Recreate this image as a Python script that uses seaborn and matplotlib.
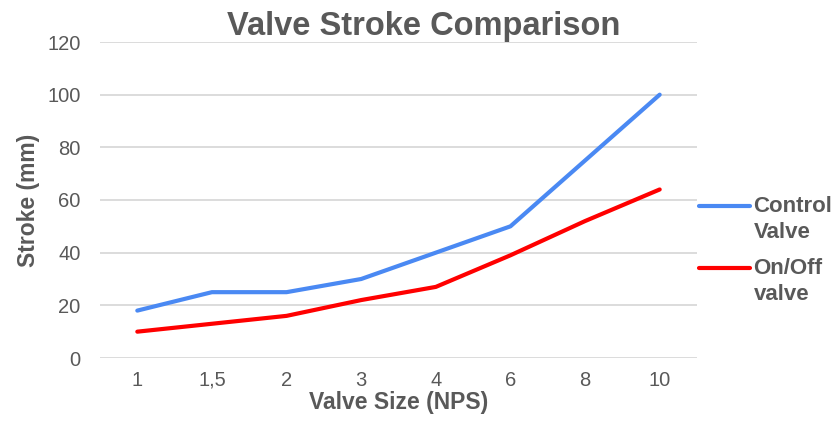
import matplotlib
matplotlib.use("Agg")
import matplotlib.pyplot as plt
from matplotlib.legend_handler import HandlerLine2D
import seaborn as sns
import pandas as pd

# data
sizes = ['1', '1,5', '2', '3', '4', '6', '8', '10']
control_valve = [18, 25, 25, 30, 40, 50, 75, 100]
onoff_valve = [10, 13, 16, 22, 27, 39, 52, 64]
series_names = ['Control\nValve', 'On/Off\nvalve']
colors = {'Control\nValve': '#4a89f3', 'On/Off\nvalve': '#ff0000'}

df = pd.DataFrame({
    'Size': sizes * 2,
    'Stroke': control_valve + onoff_valve,
    'Series': [series_names[0]] * len(sizes) + [series_names[1]] * len(sizes),
})

sns.set_theme(style="white")
plt.rcParams['font.family'] = ['Liberation Sans', 'DejaVu Sans']
grey = '#595959'
LEG_FS = 16


class FirstLineHandler(HandlerLine2D):
    # put the legend line next to the first line of a two-line label
    def create_artists(self, legend, orig_handle, xdescent, ydescent,
                       width, height, fontsize, trans):
        arts = super().create_artists(legend, orig_handle, xdescent, ydescent,
                                      width, height, fontsize, trans)
        for a in arts:
            a.set_ydata([y + 0.62 * fontsize for y in a.get_ydata()])
        return arts


fig = plt.figure(figsize=(8.39, 4.21), dpi=100)
ax = fig.add_axes([100 / 839, 1 - 358 / 421, 597 / 839, 316 / 421])

sns.lineplot(data=df, x='Size', y='Stroke', hue='Series', palette=colors,
             linewidth=3, sort=False, ax=ax, legend=True,
             solid_capstyle='round')

ax.set_xlim(-0.5, len(sizes) - 0.5)
ax.set_ylim(0, 120)
ax.set_yticks(range(0, 121, 20))
ax.grid(axis='y', color='#d9d9d9', linewidth=1.3)
ax.set_axisbelow(True)
for s in ax.spines.values():
    s.set_visible(False)
ax.tick_params(axis='both', length=0, labelsize=14.5, labelcolor=grey)
ax.tick_params(axis='y', pad=14)
ax.tick_params(axis='x', pad=9)

ax.set_xlabel('Valve Size (NPS)', fontsize=16.5, fontweight='bold', color=grey, labelpad=1)
ax.set_ylabel('Stroke (mm)', fontsize=16.5, fontweight='bold', color=grey, labelpad=5)

fig.text(0.505, 1 - 35 / 421, 'Valve Stroke Comparison', ha='center', va='baseline',
         fontsize=23.5, fontweight='bold', color=grey)

handles, labels = ax.get_legend_handles_labels()
leg = ax.legend(handles, labels, loc='upper left', bbox_to_anchor=(699 / 839, 1 - 196 / 421),
                bbox_transform=fig.transFigure, frameon=False, fontsize=LEG_FS,
                handlelength=2.3, handletextpad=0.15, labelspacing=0.7, borderpad=0,
                borderaxespad=0, handler_map={h: FirstLineHandler() for h in handles})
for t in leg.get_texts():
    t.set_color(grey)
    t.set_fontweight('bold')
    t.set_linespacing(1.3)
for l in leg.get_lines():
    l.set_linewidth(3)

fig.savefig('out.png', dpi=100)
